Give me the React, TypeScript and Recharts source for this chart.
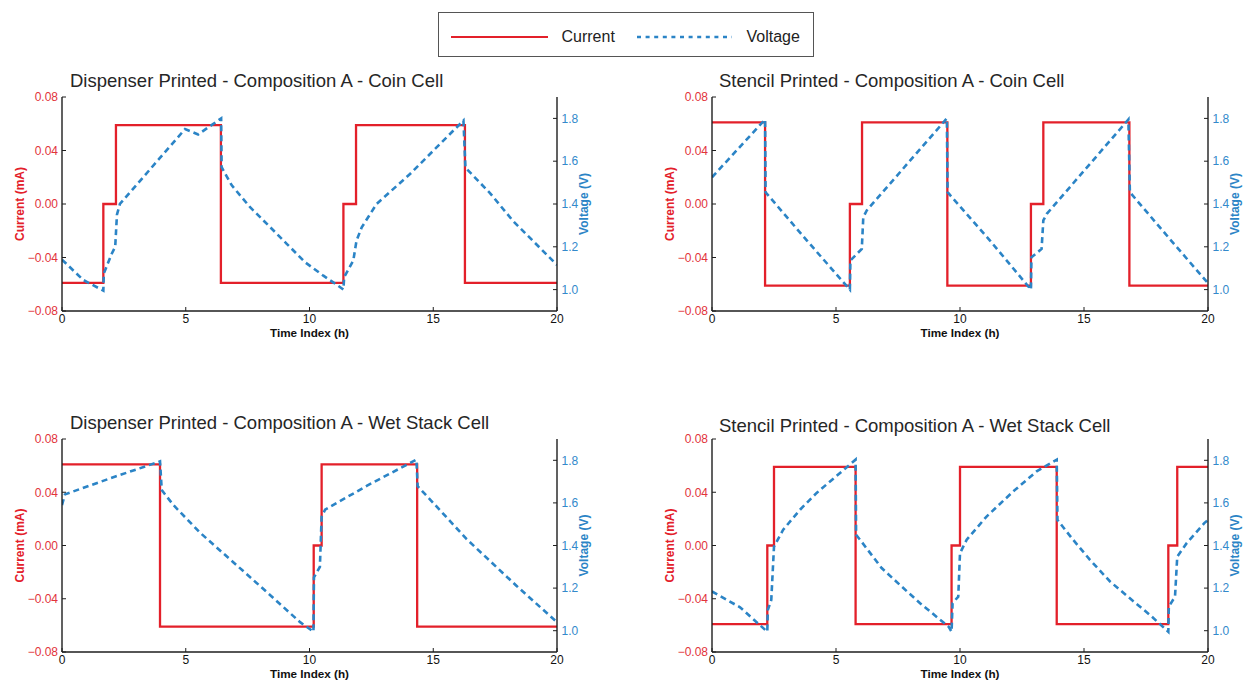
import React from 'react';
import { ComposedChart, Line, XAxis, YAxis, Label } from 'recharts';

// ---------- data ----------
const SERIES_NAMES = ['Current', 'Voltage'];
const PANEL_TITLES = [
  'Dispenser Printed - Composition A - Coin Cell',
  'Stencil Printed - Composition A - Coin Cell',
  'Dispenser Printed - Composition A - Wet Stack Cell',
  'Stencil Printed - Composition A - Wet Stack Cell',
];
const X_LABEL = 'Time Index (h)';
const Y_LEFT_LABEL = 'Current (mA)';
const Y_RIGHT_LABEL = 'Voltage (V)';
const X_TICKS = [0, 5, 10, 15, 20];
const CURRENT_TICKS = [-0.08, -0.04, 0, 0.04, 0.08];
const VOLTAGE_TICKS = [1.0, 1.2, 1.4, 1.6, 1.8];

// Panel 1: Dispenser / Coin Cell (current change points, step after)
const dispCoinCurT = [0, 1.67, 2.18, 6.42, 11.37, 11.88, 16.28, 20];
const dispCoinCurI = [-0.059, 0, 0.059, -0.059, 0, 0.059, -0.059, -0.059];
const dispCoinVoltT = [0, 0.86, 1.67, 1.69, 2.0, 2.15, 2.22, 2.34, 4.97, 5.5, 6.43, 6.45, 6.86, 7.6, 8.34, 9.08, 9.82, 10.56, 10.96, 11.37, 11.4, 11.77, 11.9, 12.11, 12.71, 14.06, 16.22, 16.3, 17.3, 18.23, 20];
const dispCoinVoltV = [1.14, 1.045, 0.995, 1.075, 1.165, 1.2, 1.35, 1.4, 1.75, 1.725, 1.8, 1.572, 1.487, 1.385, 1.3, 1.214, 1.128, 1.065, 1.034, 1.0, 1.058, 1.136, 1.229, 1.291, 1.4, 1.54, 1.79, 1.57, 1.45, 1.32, 1.115];

// Panel 2: Stencil / Coin Cell
const stenCoinCurT = [0, 2.14, 5.56, 6.05, 9.49, 12.86, 13.36, 16.83, 20];
const stenCoinCurI = [0.061, -0.061, 0, 0.061, -0.061, 0, 0.061, -0.061, -0.061];
const stenCoinVoltT = [0, 2.14, 2.16, 3.82, 5.56, 5.58, 6.04, 6.1, 6.24, 9.47, 9.5, 11.21, 12.86, 12.88, 13.29, 13.36, 13.5, 16.79, 16.85, 18.47, 20];
const stenCoinVoltV = [1.525, 1.795, 1.455, 1.23, 1.0, 1.136, 1.19, 1.338, 1.37, 1.8, 1.455, 1.229, 1.0, 1.151, 1.19, 1.323, 1.354, 1.795, 1.455, 1.235, 1.03];

// Panel 3: Dispenser / Wet Stack Cell
const dispWetCurT = [0, 3.96, 10.17, 10.49, 14.35, 20];
const dispWetCurI = [0.061, -0.061, 0, 0.061, -0.061, -0.061];
const dispWetVoltT = [0, 0.12, 1.94, 3.96, 4.03, 4.5, 5.58, 8.0, 9.62, 10.16, 10.18, 10.42, 10.49, 10.63, 12.31, 14.32, 14.37, 15.0, 16.35, 18.37, 20];
const dispWetVoltV = [1.59, 1.64, 1.715, 1.795, 1.66, 1.59, 1.46, 1.21, 1.04, 0.995, 1.25, 1.3, 1.535, 1.568, 1.68, 1.803, 1.678, 1.6, 1.43, 1.21, 1.04];

// Panel 4: Stencil / Wet Stack Cell
const stenWetCurT = [0, 2.23, 2.5, 5.79, 9.66, 10.0, 13.9, 18.4, 18.76, 20];
const stenWetCurI = [-0.059, 0, 0.059, -0.059, 0, 0.059, -0.059, 0, 0.059, 0.059];
const stenWetVoltT = [0, 1.13, 2.23, 2.25, 2.39, 2.5, 2.87, 3.55, 4.22, 5.79, 5.81, 5.97, 6.84, 7.65, 8.39, 9.13, 9.54, 9.66, 9.7, 9.93, 10.0, 10.27, 11.07, 12.15, 13.09, 13.9, 13.93, 14.56, 15.24, 16.05, 16.85, 17.66, 18.4, 18.42, 18.67, 18.76, 19.14, 19.85, 20];
const stenWetVoltV = [1.184, 1.11, 0.995, 1.097, 1.144, 1.395, 1.474, 1.568, 1.647, 1.803, 1.45, 1.427, 1.294, 1.207, 1.129, 1.058, 1.019, 0.995, 1.129, 1.16, 1.364, 1.427, 1.536, 1.654, 1.748, 1.803, 1.52, 1.427, 1.333, 1.231, 1.152, 1.074, 0.995, 1.113, 1.16, 1.348, 1.411, 1.505, 1.52];

// ---------- style ----------
const RED = '#e3202a';
const BLUE = '#2b84c6';
const RED_TXT = '#e2333b';
const BLUE_TXT = '#3389cb';
const AX = '#1e1e1e';
const FONT = '"Liberation Sans", Arial, Helvetica, sans-serif';

const zip = (ts: number[], vs: number[], key: string) => ts.map((t, i) => ({ t, [key]: vs[i] }));

const PANELS = [
  { cur: zip(dispCoinCurT, dispCoinCurI, 'i'), volt: zip(dispCoinVoltT, dispCoinVoltV, 'v'), x: 62, y: 97, w: 495, h: 214, tx: 70, ty: 87.3 },
  { cur: zip(stenCoinCurT, stenCoinCurI, 'i'), volt: zip(stenCoinVoltT, stenCoinVoltV, 'v'), x: 712, y: 97, w: 496, h: 214, tx: 719, ty: 87.3 },
  { cur: zip(dispWetCurT, dispWetCurI, 'i'), volt: zip(dispWetVoltT, dispWetVoltV, 'v'), x: 62, y: 439, w: 495, h: 213, tx: 70, ty: 428.5 },
  { cur: zip(stenWetCurT, stenWetCurI, 'i'), volt: zip(stenWetVoltT, stenWetVoltV, 'v'), x: 712, y: 439, w: 496, h: 213, tx: 719, ty: 431.7 },
];

const fmtCur = (v: number) => (v < 0 ? '\u2212' : '') + Math.abs(v).toFixed(2);
const fmtVolt = (v: number) => v.toFixed(1);

const YLabel = (text: string, color: string, dx: number) => (props: any) => {
  const vb = props.viewBox || {};
  const cx = vb.x + dx;
  const cy = vb.y + vb.height / 2;
  return (
    <text x={cx} y={cy} transform={`rotate(-90 ${cx} ${cy})`} textAnchor="middle" dominantBaseline="central"
      fill={color} fontWeight="bold" fontSize={12} fontFamily={FONT}>{text}</text>
  );
};

const XLabel = (props: any) => {
  const vb = props.viewBox || {};
  return (
    <text x={vb.x + vb.width / 2} y={vb.y + 26} textAnchor="middle" fill="#111" fontWeight="bold" fontSize={11.7} fontFamily={FONT}>{X_LABEL}</text>
  );
};

function Panel({ p }: { p: any }) {
  const chartW = 62 + p.w + 50;
  const chartH = 40 + p.h + 40;
  const axisLine = { stroke: AX, strokeWidth: 1.4 };
  const tickLine = { stroke: AX, strokeWidth: 1 };
  return (
    <div style={{ position: 'absolute', left: p.x - 62, top: p.y - 40 }}>
      <ComposedChart width={chartW} height={chartH} margin={{ top: 40, left: 12, right: 0, bottom: 10 }}>
        <XAxis xAxisId="b" orientation="bottom" type="number" dataKey="t" domain={[0, 20]} ticks={X_TICKS} allowDataOverflow
          interval={0} height={30} tickSize={-4} tickMargin={7} axisLine={axisLine} tickLine={tickLine}
          tick={{ fill: '#111', fontSize: 12, fontFamily: FONT }}>
          <Label content={XLabel} />
        </XAxis>
        <XAxis xAxisId="top" orientation="top" type="number" dataKey="t" domain={[0, 20]} ticks={X_TICKS} allowDataOverflow
          interval={0} height={0} tickSize={-4} axisLine={axisLine} tickLine={tickLine} tickFormatter={() => ''} />
        <YAxis yAxisId="i" orientation="left" type="number" domain={[-0.08, 0.08]} ticks={CURRENT_TICKS} allowDataOverflow
          interval={0} width={50} tickSize={-4} tickMargin={8} axisLine={axisLine} tickLine={tickLine}
          tickFormatter={fmtCur} tick={{ fill: RED_TXT, fontSize: 12, fontFamily: FONT }}>
          <Label content={YLabel(Y_LEFT_LABEL, RED, 7.5)} />
        </YAxis>
        <YAxis yAxisId="v" orientation="right" type="number" domain={[0.9, 1.9]} ticks={VOLTAGE_TICKS} allowDataOverflow
          interval={0} width={50} tickSize={-4} tickMargin={8.5} axisLine={axisLine} tickLine={tickLine}
          tickFormatter={fmtVolt} tick={{ fill: BLUE_TXT, fontSize: 12, fontFamily: FONT }}>
          <Label content={YLabel(Y_RIGHT_LABEL, BLUE, 27)} />
        </YAxis>
        <Line data={p.cur} dataKey="i" name={SERIES_NAMES[0]} xAxisId="b" yAxisId="i" type="stepAfter" stroke={RED}
          strokeWidth={2.3} dot={false} activeDot={false} isAnimationActive={false} />
        <Line data={p.volt} dataKey="v" name={SERIES_NAMES[1]} xAxisId="b" yAxisId="v" type="linear" stroke={BLUE}
          strokeWidth={2.6} strokeDasharray="6 4" dot={false} activeDot={false} isAnimationActive={false} />
      </ComposedChart>
    </div>
  );
}

export default function App() {
  return (
    <div style={{ position: 'absolute', left: 0, top: 0, width: 1243, height: 681, background: '#fff', fontFamily: FONT }}>
      {PANELS.map((p, i) => <Panel key={i} p={p} />)}
      <svg width={1243} height={681} style={{ position: 'absolute', left: 0, top: 0, pointerEvents: 'none' }}>
        {PANELS.map((p, i) => (
          <text key={i} x={p.tx} y={p.ty} fontSize={18.5} fill="#262626" fontFamily={FONT}>{PANEL_TITLES[i]}</text>
        ))}
        <rect x={438.5} y={12.5} width={375} height={44} fill="#fff" stroke="#555" strokeWidth={1} />
        <line x1={451} x2={548} y1={37} y2={37} stroke={RED} strokeWidth={2.2} />
        <text x={561.5} y={42} fontSize={16} fill="#222" fontFamily={FONT}>{SERIES_NAMES[0]}</text>
        <line x1={637} x2={732} y1={37} y2={37} stroke={BLUE} strokeWidth={2.6} strokeDasharray="4 4.6" />
        <text x={746.5} y={42} fontSize={16} fill="#222" fontFamily={FONT}>{SERIES_NAMES[1]}</text>
      </svg>
    </div>
  );
}
